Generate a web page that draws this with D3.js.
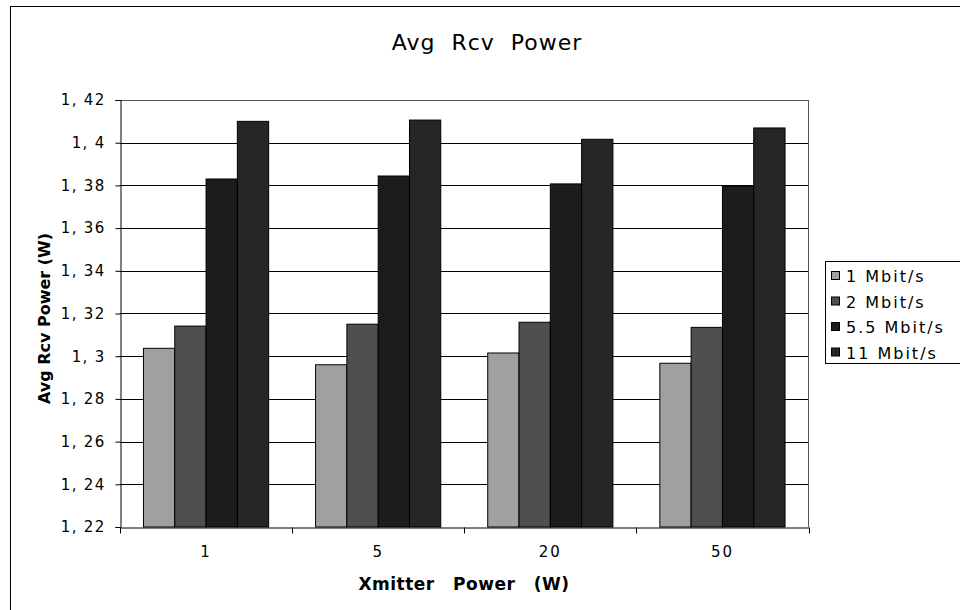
<!DOCTYPE html>
<html>
<head>
<meta charset="utf-8">
<script src="https://cdn.jsdelivr.net/npm/d3@7"></script>
<style>
  html, body { margin: 0; padding: 0; background: #fff; }
  svg { display: block; }
  text { font-family: "DejaVu Sans", sans-serif; fill: #000; }
</style>
</head>
<body>
<svg id="chart" width="960" height="610"></svg>
<script>
const categories = ["1", "5", "20", "50"];
const seriesNames = ["1 Mbit/s", "2 Mbit/s", "5.5 Mbit/s", "11 Mbit/s"];
const values_1 = [1.3037, 1.2960, 1.3015, 1.2967];
const values_2 = [1.3141, 1.3150, 1.3159, 1.3135];
const values_55 = [1.3830, 1.3844, 1.3807, 1.3797];
const values_11 = [1.4100, 1.4106, 1.4016, 1.4069];
const yTicks = [1.22, 1.24, 1.26, 1.28, 1.30, 1.32, 1.34, 1.36, 1.38, 1.40, 1.42];
const colors = ["#a0a0a0", "#4f4f4f", "#1c1c1c", "#262626"];
const title = "Avg Rcv Power";
const xTitle = "Xmitter Power (W)";
const yTitle = "Avg Rcv Power (W)";

const seriesValues = [values_1, values_2, values_55, values_11];

const svg = d3.select("#chart");
const L = 120, R = 808.5, T = 100, B = 527;

// outer frame
svg.append("rect").attr("x", 10.5).attr("y", 6.5).attr("width", 970).attr("height", 620)
  .attr("fill", "#fff").attr("stroke", "#000").attr("stroke-width", 1);

const x0 = d3.scaleBand().domain(categories).range([L, R]).padding(0);
const x1 = d3.scaleBand().domain(d3.range(seriesNames.length)).range([0, x0.bandwidth()])
  .paddingInner(0).paddingOuter(0.75);
const y = d3.scaleLinear().domain([1.22, 1.42]).range([B, T]);

// grid
svg.append("g").selectAll("line").data(yTicks.slice(1)).join("line")
  .attr("x1", L).attr("x2", R)
  .attr("y1", d => Math.round(y(d)) + 0.5).attr("y2", d => Math.round(y(d)) + 0.5)
  .attr("stroke", "#000").attr("stroke-width", 1);

// plot border top/right
svg.append("path")
  .attr("d", `M${L},${T + 0.5}H${R}V${B}`)
  .attr("fill", "none").attr("stroke", "#555").attr("stroke-width", 1);

// bars
const groups = svg.append("g").selectAll("g").data(categories).join("g")
  .attr("transform", c => `translate(${x0(c)},0)`);
groups.selectAll("rect")
  .data((c, ci) => seriesValues.map((vals, si) => ({ si, v: vals[ci] })))
  .join("rect")
  .attr("x", d => x1(d.si))
  .attr("width", x1.bandwidth())
  .attr("y", d => y(d.v))
  .attr("height", d => B - y(d.v))
  .attr("fill", d => colors[d.si])
  .attr("stroke", "#000").attr("stroke-width", 1);

// y axis
const fmt = v => d3.format(".2~f")(v).replace(".", ", ");
const yAxis = d3.axisLeft(y).tickValues(yTicks).tickSize(5).tickPadding(10).tickFormat(fmt);
const yg = svg.append("g").attr("transform", `translate(${L + 0.5},0)`).call(yAxis);
yg.select(".domain").attr("stroke", "#000");
yg.selectAll(".tick line").attr("stroke", "#000");
yg.selectAll("text").style("font-size", "15px").style("letter-spacing", "1.3px")
  .attr("font-family", "DejaVu Sans");

// x axis
const xAxis = d3.axisBottom(x0).tickSize(0).tickPadding(19);
const xg = svg.append("g").attr("transform", `translate(0,${B + 0.5})`).call(xAxis);
xg.select(".domain").attr("stroke", "#000");
xg.selectAll("text").style("font-size", "15px").style("letter-spacing", "2px");
// boundary ticks
const bounds = categories.map(c => x0(c)).concat([x0.range()[1]]);
xg.selectAll(".btick").data(bounds).join("line").attr("class", "btick")
  .attr("x1", d => Math.round(d) + 0.5).attr("x2", d => Math.round(d) + 0.5)
  .attr("y1", 0).attr("y2", 6).attr("stroke", "#000");

// titles
svg.append("text").attr("x", 487).attr("y", 50).attr("text-anchor", "middle")
  .style("font-size", "22px").style("letter-spacing", "1px").style("word-spacing", "8px").text(title);
svg.append("text").attr("x", 464).attr("y", 590).attr("text-anchor", "middle")
  .style("font-size", "17px").style("font-weight", "bold").style("letter-spacing", "0.5px")
  .style("word-spacing", "12px").text(xTitle);
svg.append("text").attr("transform", `translate(50,${(T + B) / 2 + 5}) rotate(-90)`)
  .attr("text-anchor", "middle").style("font-size", "16px").style("font-weight", "bold").text(yTitle);

// legend
const lg = svg.append("g");
lg.append("rect").attr("x", 825.5).attr("y", 261.5).attr("width", 150).attr("height", 102)
  .attr("fill", "#fff").attr("stroke", "#000");
const rows = lg.selectAll("g.row").data(seriesNames).join("g").attr("class", "row")
  .attr("transform", (d, i) => `translate(831,${276 + i * 25.5})`);
rows.append("rect").attr("x", 0.5).attr("y", -4.5).attr("width", 8).attr("height", 8)
  .attr("fill", (d, i) => colors[i]).attr("stroke", "#000");
rows.append("text").attr("x", 15).attr("y", 6).style("font-size", "16px")
  .style("letter-spacing", "2px").text(d => d);
</script>
</body>
</html>
